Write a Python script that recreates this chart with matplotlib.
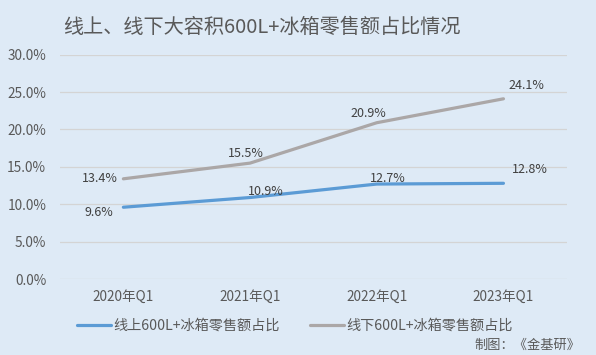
import matplotlib
matplotlib.use('Agg')
from matplotlib import pyplot as plt
from matplotlib.ticker import FuncFormatter

plt.rcParams['font.family'] = ['Noto Sans CJK SC', 'DejaVu Sans']

quarters = ['2020年Q1', '2021年Q1', '2022年Q1', '2023年Q1']
online = [9.6, 10.9, 12.7, 12.8]
offline = [13.4, 15.5, 20.9, 24.1]
online_name = '线上600L+冰箱零售额占比'
offline_name = '线下600L+冰箱零售额占比'

bg = '#DEEAF6'
text_c = '#595959'

fig = plt.figure(figsize=(5.96, 3.55), dpi=100, facecolor=bg)
ax = fig.add_axes([0.1007, 0.214, 0.8503, 0.632], facecolor=bg)

x = range(len(quarters))
ax.plot(x, online, color='#5B9BD5', lw=2.3, solid_capstyle='round', label=online_name, zorder=3)
ax.plot(x, offline, color='#ABA7A7', lw=2.3, solid_capstyle='round', label=offline_name, zorder=3)

ax.set_xlim(-0.5, 3.5)
ax.set_ylim(0, 30)
ax.set_yticks(range(0, 31, 5))
ax.yaxis.set_major_formatter(FuncFormatter(lambda v, p: f'{v:.1f}%'))
ax.set_xticks(list(x))
ax.set_xticklabels(quarters)
ax.tick_params(length=0, labelsize=9.8, colors=text_c, pad=8)
ax.tick_params(axis='y', pad=10)
ax.grid(axis='y', color='#D4D4D4', lw=0.9)
ax.set_axisbelow(True)
for s in ax.spines.values():
    s.set_visible(False)

# data labels (pixel offsets from the point)
off_offsets = [(-24, 0), (-4, 10), (-8, 9), (23, 13)]
on_offsets = [(-24, -5), (16, 6), (11, 6), (26, 14)]
for i, v in enumerate(offline):
    ax.annotate(f'{v}%', (i, v), xytext=off_offsets[i], textcoords='offset pixels',
                ha='center', va='center', fontsize=9, color='#404040')
for i, v in enumerate(online):
    ax.annotate(f'{v}%', (i, v), xytext=on_offsets[i], textcoords='offset pixels',
                ha='center', va='center', fontsize=9, color='#404040')

fig.text(63 / 596, 1 - 27 / 355, '线上、线下大容积600L+冰箱零售额占比情况',
         fontsize=14.5, color=text_c, ha='left', va='center')

fig.legend(loc='center left', bbox_to_anchor=(64 / 596, 1 - 326 / 355), ncol=2,
           frameon=False, fontsize=10.2, handlelength=2.4, handletextpad=0.2,
           columnspacing=2.1, labelcolor=text_c)

fig.text(580 / 596, 1 - 345 / 355, '制图：《金基研》', fontsize=9.5, color=text_c,
         ha='right', va='center')

fig.savefig('out.png', dpi=100, facecolor=bg)
